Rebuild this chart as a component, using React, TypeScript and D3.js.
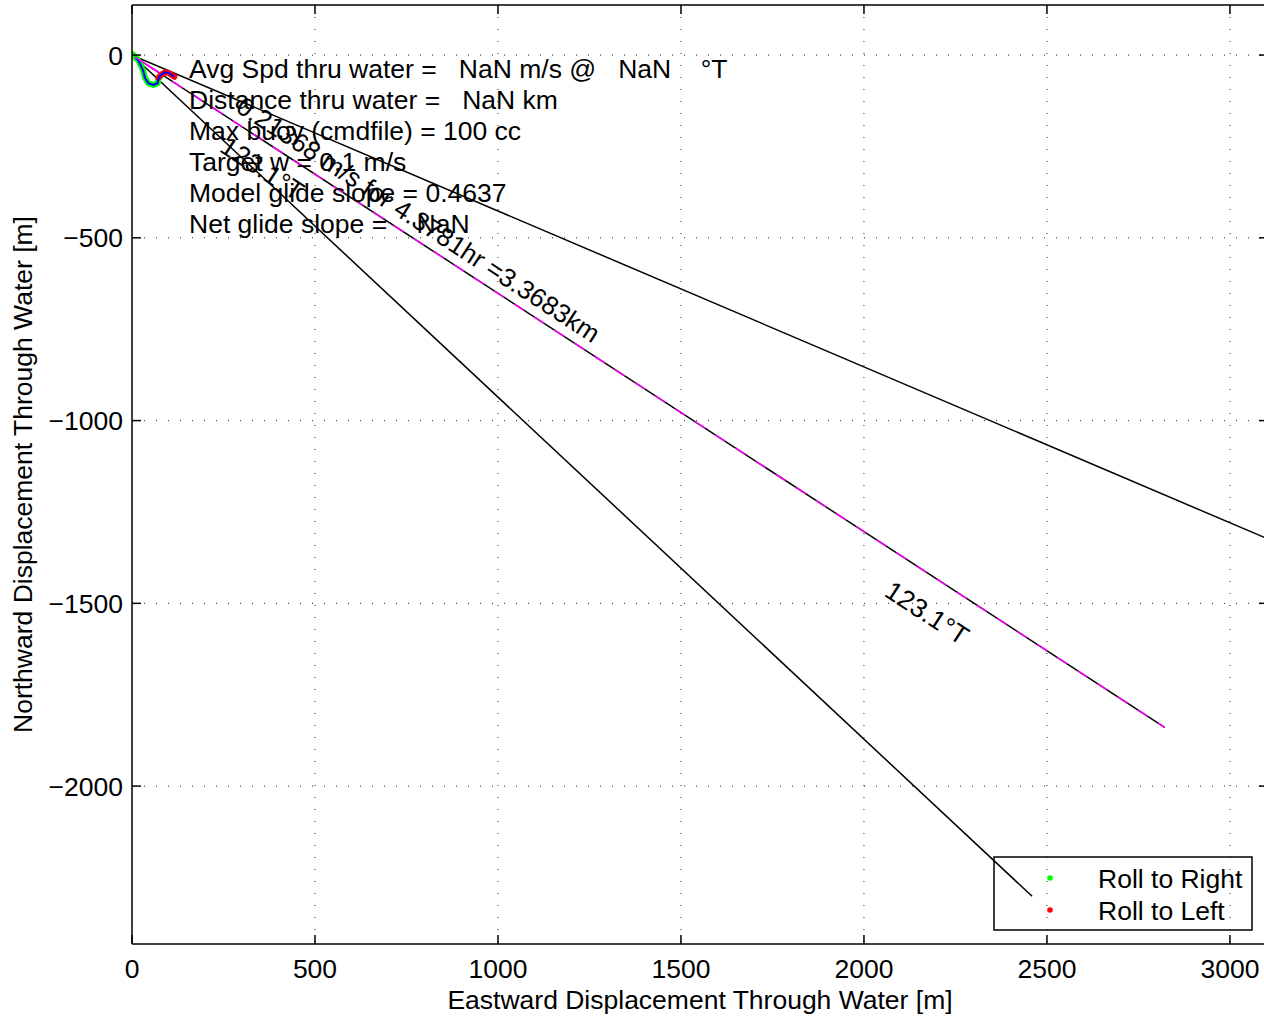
import React from "react";
import * as d3 from "d3";

// ---- data ----
const xTicks = [0, 500, 1000, 1500, 2000, 2500, 3000];
const yTicks = [-2000, -1500, -1000, -500, 0];
const xDomain = [0, 3104];
const yDomain = [-2432, 137];

// heading lines from origin (deg True), all of the same length (m)
const headings = [113.1, 123.1, 133.1];
const lineLength = 3368.3;
const mainHeading = 123.1;

// trajectory (m east, m north)
const rollRightX = [3.6, 17.2, 24.6, 30.9, 35.5, 44.5, 58.2, 70.2, 71.9, 76.5];
const rollRightY = [0, -14.5, -29, -44, -62, -77, -82, -77, -65, -60];
const rollLeftX = [71.9, 81.1, 90.2, 99.2, 108.5, 115.6];
const rollLeftY = [-62.1, -52.7, -47.3, -48.4, -54.6, -59.3];

const infoLines = [
  "Avg Spd thru water =   NaN m/s @   NaN    \u00B0T",
  "Distance thru water =   NaN km",
  "Max buoy (cmdfile) = 100 cc",
  "Target w = 0.1 m/s",
  "Model glide slope = 0.4637",
  "Net glide slope =    NaN",
];

// rotated labels: text, data anchor (baseline start), size
const rotLabels = [
  { text: "0.21368 m/s for 4.3781hr =3.3683km", x: 280, y: -152, size: 26 },
  { text: "123.1\u00B0T", x: 236, y: -262, size: 26.5 },
  { text: "123.1\u00B0T", x: 2052, y: -1478, size: 26.5 },
];

const legendItems = [
  { label: "Roll to Right", color: "#00ff00" },
  { label: "Roll to Left", color: "#ff0000" },
];

const FONT = "'Liberation Sans', Arial, Helvetica, sans-serif";
const FS = 26.5;

export default function App() {
  const W = 1264;
  const H = 1018;
  const left = 132, right = 1268, top = 5, bottom = 944;
  const x = d3.scaleLinear().domain(xDomain).range([left, right]);
  const y = d3.scaleLinear().domain(yDomain).range([bottom, top]);

  const line = d3
    .line<[number, number]>()
    .x((d) => x(d[0]))
    .y((d) => y(d[1]));

  const rr: [number, number][] = [[0, 0], ...rollRightX.map((v, i) => [v, rollRightY[i]] as [number, number])];
  const rl: [number, number][] = rollLeftX.map((v, i) => [v, rollLeftY[i]] as [number, number]);

  const ends = headings.map((h) => {
    const r = (h * Math.PI) / 180;
    return [lineLength * Math.sin(r), lineLength * Math.cos(r)] as [number, number];
  });
  const mr = (mainHeading * Math.PI) / 180;
  const mainEnd: [number, number] = [lineLength * Math.sin(mr), lineLength * Math.cos(mr)];
  const angPx =
    (Math.atan2(y(mainEnd[1]) - y(0), x(mainEnd[0]) - x(0)) * 180) / Math.PI;

  const tickLen = 9;

  return (
    <svg
      width={W}
      height={H}
      style={{ position: "absolute", left: 0, top: 0, background: "#fff", fontFamily: FONT }}
    >
      <defs>
        <clipPath id="plotclip">
          <rect x={left} y={top} width={right - left} height={bottom - top} />
        </clipPath>
      </defs>
      <rect x={0} y={0} width={W} height={H} fill="#fff" />

      {/* grid */}
      <g stroke="#222" strokeWidth={1} strokeDasharray="1,11">
        {xTicks.filter((t) => t > 0).map((t) => (
          <line key={"gx" + t} x1={x(t)} x2={x(t)} y1={top} y2={bottom} />
        ))}
        {yTicks.map((t) => (
          <line key={"gy" + t} x1={left} x2={right} y1={y(t)} y2={y(t)} />
        ))}
      </g>

      <g clipPath="url(#plotclip)">
        {/* heading lines */}
        {ends.map((e, i) => (
          <path key={"h" + i} d={line([[0, 0], e]) || ""} stroke="#000" strokeWidth={1.5} fill="none" />
        ))}
        <path
          d={line([[0, 0], mainEnd]) || ""}
          stroke="#ff00ff"
          strokeWidth={1.5}
          strokeDasharray="12,12"
          fill="none"
        />
        {/* trajectory */}
        <path d={line(rr) || ""} stroke="#00ff00" strokeWidth={6} fill="none" strokeLinejoin="round" strokeLinecap="round" />
        <path d={line(rl) || ""} stroke="#ff0000" strokeWidth={6} fill="none" strokeLinejoin="round" strokeLinecap="round" />
        <path d={line(rr) || ""} stroke="#0000ff" strokeWidth={2} fill="none" />
        <path d={line(rl) || ""} stroke="#0000ff" strokeWidth={2} fill="none" />
        <path d={line([[0, 0], [70, -45]]) || ""} stroke="#ff00ff" strokeWidth={1.5} fill="none" />
        <circle cx={x(0)} cy={y(0)} r={4} fill="#00ff00" />
      </g>

      {/* info text */}
      <g fontSize={FS} fill="#000">
        {infoLines.map((s, i) => (
          <text key={"t" + i} x={189} y={78 + i * 31} style={{ whiteSpace: "pre" }}>
            {s}
          </text>
        ))}
      </g>

      {/* rotated labels */}
      {rotLabels.map((l, i) => (
        <text
          key={"r" + i}
          fontSize={l.size}
          transform={`translate(${x(l.x)},${y(l.y)}) rotate(${angPx})`}
          style={{ whiteSpace: "pre" }}
        >
          {l.text}
        </text>
      ))}

      {/* axes box */}
      <g stroke="#000" strokeWidth={1.5} fill="none">
        <line x1={left} x2={right} y1={bottom} y2={bottom} />
        <line x1={left} x2={right} y1={top} y2={top} />
        <line x1={left} x2={left} y1={top} y2={bottom} />
        <line x1={right} x2={right} y1={top} y2={bottom} />
        {xTicks.map((t) => (
          <g key={"xt" + t}>
            <line x1={x(t)} x2={x(t)} y1={bottom} y2={bottom - tickLen} />
            <line x1={x(t)} x2={x(t)} y1={top} y2={top + tickLen} />
          </g>
        ))}
        {yTicks.map((t) => (
          <g key={"yt" + t}>
            <line x1={left} x2={left + tickLen} y1={y(t)} y2={y(t)} />
            <line x1={right} x2={right - tickLen} y1={y(t)} y2={y(t)} />
          </g>
        ))}
      </g>

      {/* tick labels */}
      <g fontSize={FS} fill="#000">
        {xTicks.map((t) => (
          <text key={"xl" + t} x={x(t)} y={978} textAnchor="middle">
            {d3.format("d")(t)}
          </text>
        ))}
        {yTicks.map((t) => (
          <text key={"yl" + t} x={123} y={y(t) + 9.5} textAnchor="end">
            {t < 0 ? "\u2212" + Math.abs(t) : String(t)}
          </text>
        ))}
      </g>

      {/* axis labels */}
      <text x={(left + right) / 2} y={1009} fontSize={FS} textAnchor="middle">
        Eastward Displacement Through Water [m]
      </text>
      <text
        transform={`translate(32,${(top + bottom) / 2}) rotate(-90)`}
        fontSize={FS}
        textAnchor="middle"
      >
        Northward Displacement Through Water [m]
      </text>

      {/* legend */}
      <g>
        <rect x={994} y={857} width={258} height={73} fill="none" stroke="#000" strokeWidth={1.5} />
        {legendItems.map((it, i) => (
          <g key={"lg" + i}>
            <circle cx={1050} cy={878 + i * 32} r={2.8} fill={it.color} />
            <text x={1098} y={888 + i * 32} fontSize={FS}>
              {it.label}
            </text>
          </g>
        ))}
      </g>
    </svg>
  );
}
